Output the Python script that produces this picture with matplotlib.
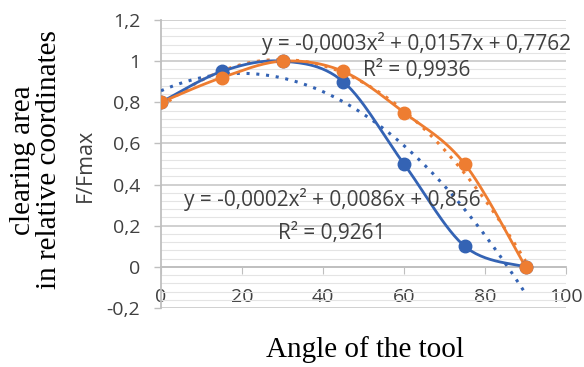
import numpy as np
import matplotlib.pyplot as plt

angle = [0, 15, 30, 45, 60, 75, 90]
blue_vals = [0.80, 0.95, 1.00, 0.90, 0.50, 0.10, 0.00]
orange_vals = [0.80, 0.92, 1.00, 0.95, 0.75, 0.50, 0.00]
yticks = [-0.2, 0, 0.2, 0.4, 0.6, 0.8, 1.0, 1.2]
ytick_labels = ['-0,2', '0', '0,2', '0,4', '0,6', '0,8', '1', '1,2']
xticks = [0, 20, 40, 60, 80, 100]
eq_orange = 'y = -0,0003x² + 0,0157x + 0,7762'
r2_orange = 'R² = 0,9936'
eq_blue = 'y = -0,0002x² + 0,0086x + 0,856'
r2_blue = 'R² = 0,9261'

BLUE = '#3463B4'
ORANGE = '#EE7D31'
TXT = '#404040'


def smooth(x, y, n=30):
    # bezier smoothing like excel "smoothed line" (end points doubled)
    x = np.asarray(x, float)
    y = np.asarray(y, float)
    px = np.concatenate([[x[0]], x, [x[-1]]])
    py = np.concatenate([[y[0]], y, [y[-1]]])
    xs, ys = [], []
    t = np.linspace(0, 1, n)
    for i in range(1, len(px) - 2):
        for p, out in ((px, xs), (py, ys)):
            p0, p1, p2, p3 = p[i - 1], p[i], p[i + 1], p[i + 2]
            c1 = p1 + (p2 - p0) / 6
            c2 = p2 - (p3 - p1) / 6
            out.extend((1 - t) ** 3 * p1 + 3 * (1 - t) ** 2 * t * c1
                       + 3 * (1 - t) * t ** 2 * c2 + t ** 3 * p2)
    return np.array(xs), np.array(ys)


plt.rcParams['font.family'] = ['Open Sans', 'DejaVu Sans']
fig = plt.figure(figsize=(5.84, 3.67), dpi=100)
ax = fig.add_axes([161 / 584, 1 - 308 / 367, 405 / 584, 288 / 367])

ax.set_xlim(0, 100)
ax.set_ylim(-0.2, 1.2)
ax.set_yticks(yticks)
ax.set_yticklabels(ytick_labels)
ax.set_yticks(np.arange(-0.2, 1.2001, 0.04), minor=True)
ax.set_xticks(xticks)
ax.set_xticklabels([str(v) for v in xticks])
ax.grid(True, which='major', axis='y', color='#C4C4C4', lw=1.1)
ax.grid(True, which='minor', axis='y', color='#E4E4E4', lw=0.8)
ax.set_axisbelow(True)
ax.tick_params(axis='y', which='major', length=5, color='#BFBFBF', width=1, pad=10,
               labelsize=14, labelcolor=TXT)
ax.tick_params(axis='y', which='minor', length=0)
ax.tick_params(axis='x', length=5, direction='out', color='#BFBFBF', pad=10,
               labelsize=14, labelcolor=TXT)

for s in ('top', 'right'):
    ax.spines[s].set_visible(False)
ax.spines['bottom'].set_position(('data', 0))
ax.spines['bottom'].set_color('#BFBFBF')
ax.spines['left'].set_color('#BFBFBF')
ax.spines['bottom'].set_linewidth(1.3)
ax.spines['left'].set_linewidth(1.3)

xx = np.linspace(0, 90, 200)
for vals, col in ((blue_vals, BLUE), (orange_vals, ORANGE)):
    coef = np.polyfit(angle, vals, 2)
    ax.plot(xx, np.polyval(coef, xx), color=col, ls=(0, (1, 2.2)), lw=2.2, zorder=3)

for vals, col in ((blue_vals, BLUE), (orange_vals, ORANGE)):
    sx, sy = smooth(angle, vals)
    ax.plot(sx, sy, color=col, lw=2, zorder=4)
    ax.plot(angle, vals, 'o', color=col, ms=9, zorder=5)

ax.text(0.632, 0.92, eq_orange, transform=ax.transAxes, ha='center', va='center',
        fontsize=15, color=TXT, zorder=6)
ax.text(0.632, 0.826, r2_orange, transform=ax.transAxes, ha='center', va='center',
        fontsize=15, color=TXT, zorder=6)
ax.text(0.422, 0.375, eq_blue, transform=ax.transAxes, ha='center', va='center',
        fontsize=15, color=TXT, zorder=6)
ax.text(0.422, 0.26, r2_blue, transform=ax.transAxes, ha='center', va='center',
        fontsize=15, color=TXT, zorder=6)

fig.text(85 / 584, 1 - 165 / 367, 'F/Fmax', rotation=90, ha='center', va='center',
         fontsize=15.5, color=TXT)
fig.text(36 / 584, 1 - 160 / 367, 'clearing area\nin relative coordinates', rotation=90,
         ha='center', va='center', fontsize=21, family='Liberation Serif',
         linespacing=1.0)
fig.text(365 / 584, 1 - 350 / 367, 'Angle of the tool', ha='center', va='center',
         fontsize=21, family='Liberation Serif')

fig.savefig('out.png', dpi=100)
